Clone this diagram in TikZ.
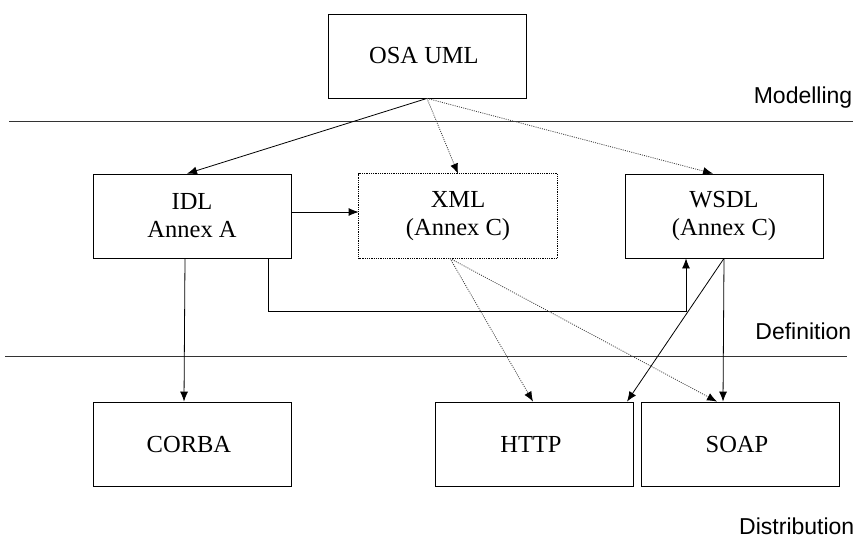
\documentclass[tikz,border=0pt]{standalone}
\usepackage{fontspec}
\setmainfont{Liberation Serif}
\newfontfamily\labelfont{Liberation Sans}
\usepackage{tikz}
\usetikzlibrary{arrows.meta}
\tikzset{
  every box/.style={
    draw=black,fill=white,line width=0.8pt,minimum width=198pt,minimum height=84pt,
    align=center,font=\fontsize{24.5}{28}\selectfont,
  },
  dotline/.style={black!75,line width=0.8pt,dash pattern=on 1pt off 1.2pt,
    >={Latex[length=10pt,width=8pt,color=black]}},
  layer/.style={anchor=east,font=\labelfont\fontsize{23}{27}\selectfont},
}

\begin{document}
\begin{tikzpicture}[x=1pt,y=-1pt,>={Latex[length=10pt,width=8pt]},line width=0.8pt]
      \useasboundingbox (0,0) rectangle (866,547);

      \node[every box] (osa) at (427,56) { OSA UML };
      \node[every box] (idl) at (192,216) { IDL\\Annex A };
      \node[every box,draw=none] (xml) at (458,216) { XML\\(Annex C) };
      \draw[black,line width=0.8pt,densely dotted] (xml.south west) rectangle (xml.north east);
      \node[every box] (wsdl) at (724,216) { WSDL\\(Annex C) };
      \node[every box] (corba) at (192,444) { CORBA };
      \node[every box] (http) at (534,444) { HTTP };
      \node[every box] (soap) at (740,444) { SOAP };

      \coordinate (modl) at (9,121);
      \coordinate (modr) at (853,121);
      \coordinate (defl) at (5,356);
      \coordinate (defr) at (847,356);
      \draw[black!80] (modl) -- (modr);
      \draw[black!80] (defl) -- (defr);
      \node[layer] (modelling) at (856,98) {Modelling};
      \node[layer] (definition) at (855,331) {Definition};
      \node[layer] (distribution) at (858,526) {Distribution};

      \path[->] (osa.south) edge ([xshift=-5pt]idl.north);
      \path[->] (osa.south) edge[dotline] (xml.north);
      \path[->] (osa.south) edge[dotline] ([xshift=-11pt]wsdl.north);
      \path[->] ([yshift=4pt]idl.east) edge ([yshift=4pt]xml.west);
      \path[->] ([xshift=-7pt]idl.south) edge ([xshift=-8pt]corba.north);
      \draw[->] ([xshift=76pt]idl.south) -- ++(0,53) -| ([xshift=-38pt]wsdl.south);
      \path[->] ([xshift=-8pt]xml.south) edge[dotline] ([xshift=-1pt]http.north);
      \path[->] ([xshift=-8pt]xml.south) edge[dotline] ([xshift=-23pt]soap.north);
      \path[->] (wsdl.south) edge ([xshift=93pt]http.north);
      \path[->] (wsdl.south) edge ([xshift=-17pt]soap.north);
\end{tikzpicture}
\end{document}
